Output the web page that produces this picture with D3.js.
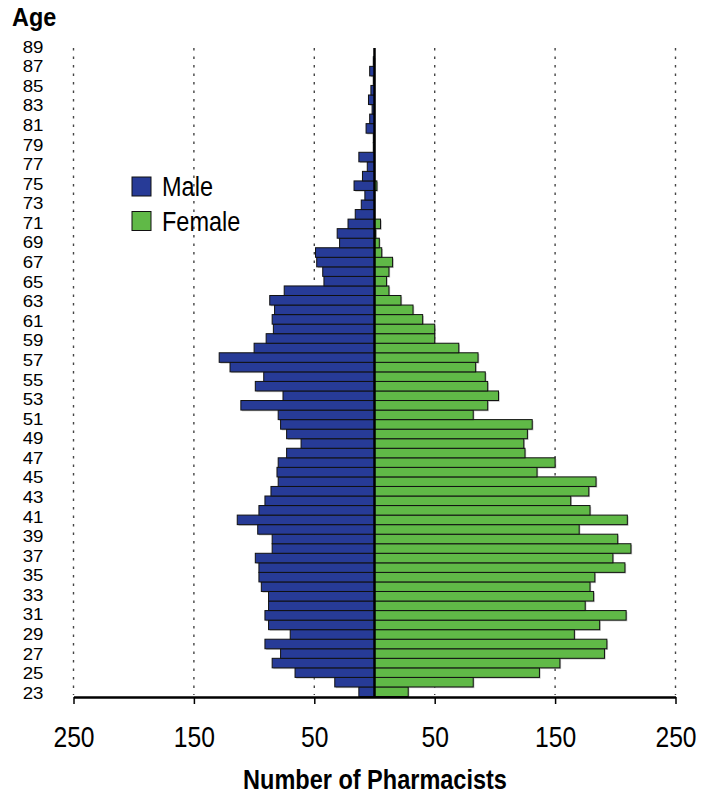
<!DOCTYPE html>
<html><head><meta charset="utf-8">
<script src="https://cdn.jsdelivr.net/npm/d3@7/dist/d3.min.js"></script>
<style>
body{margin:0;background:#fff}
svg{display:block}
text{font-family:"Liberation Sans","Arial",sans-serif;fill:#000}
</style>
</head><body>
<svg id="chart" width="712" height="796"></svg>
<script>
// Ages (categories), bottom to top
const ages = [23,24,25,26,27,28,29,30,31,32,33,34,35,36,37,38,39,40,41,42,43,44,45,46,47,48,49,50,51,52,53,54,55,56,
  57,58,59,60,61,62,63,64,65,66,67,68,69,70,71,72,73,74,75,76,77,78,79,80,81,82,83,84,85,86,87,88,89];
// Number of male pharmacists per age
const male = [13,33,66,85,78,91,70,88,91,88,88,94,96,96,99,85,85,97,114,96,91,86,80,81,80,73,61,73,78,80,111,76,99,92,
  120,129,100,90,84,85,83,87,75,42,43,48,49,29,31,22,16,11,8,17,10,6,13,1,1,7,4,2,5,3,1,4,1];
// Number of female pharmacists per age
const female = [28,82,137,154,191,193,166,187,209,175,182,179,183,208,198,213,202,170,210,179,163,178,184,135,150,125,124,127,131,82,94,103,94,92,
  84,86,70,50,50,40,32,22,12,10,12,15,6,4,1,5,0,0,0,2,0,0,0,0,0,0,0,0,0,0,0,0,0];
// Tick labels
const ageTicks = [23,25,27,29,31,33,35,37,39,41,43,45,47,49,51,53,55,57,59,61,63,65,67,69,71,73,75,77,79,81,83,85,87,89];
const xTicks = [-250,-150,-50,50,150,250];
const seriesNames = ["Male","Female"];
const colors = {Male:"#273b97", Female:"#60b947"};

const svg = d3.select("#chart");
svg.append("rect").attr("width",712).attr("height",796).attr("fill","#fff");

const x = d3.scaleLinear().domain([-250,250]).range([73.5,675.5]);
const yBand = d3.scaleBand().domain(ages).range([696.5,56.8]).paddingInner(0).paddingOuter(0);
const yLabel = d3.scalePoint().domain(ages).range([692,46]);
const plotTop = 48, plotBottom = 697;

// gridlines
svg.append("g").selectAll("line").data(xTicks).join("line")
  .attr("x1",d=>x(d)).attr("x2",d=>x(d))
  .attr("y1",plotTop).attr("y2",plotBottom-2)
  .attr("stroke","#444").attr("stroke-width",1.4)
  .attr("stroke-dasharray","2.5,6");

const rows = ages.map((a,i)=>({age:a, male:male[i], female:female[i]}));

function drawSeries(key, sign){
  const data = rows.filter(r=>r[key]>0);
  const g = svg.append("g");
  const xs = r => sign<0 ? x(-r[key]) : x(0);
  const ws = r => Math.abs(x(sign*r[key]) - x(0));
  g.selectAll("rect.sh").data(data).join("rect").attr("class","sh")
    .attr("x",r=>xs(r)+1.2).attr("y",r=>yBand(r.age)+1.2)
    .attr("width",ws).attr("height",yBand.bandwidth())
    .attr("fill","#8c8c8c").attr("opacity",0.55);
  g.selectAll("rect.bar").data(data).join("rect").attr("class","bar")
    .attr("x",xs).attr("y",r=>yBand(r.age))
    .attr("width",ws).attr("height",yBand.bandwidth())
    .attr("fill",colors[key==="male"?"Male":"Female"])
    .attr("stroke","#111").attr("stroke-width",1);
}
drawSeries("male",-1);
drawSeries("female",1);

// center line
svg.append("line").attr("x1",x(0)).attr("x2",x(0)).attr("y1",plotTop).attr("y2",plotBottom)
  .attr("stroke","#000").attr("stroke-width",2.5);

// x axis
const xAxis = svg.append("g").attr("transform",`translate(0,${plotBottom})`)
  .call(d3.axisBottom(x).tickValues(xTicks).tickFormat(d=>Math.abs(d)).tickSize(7).tickPadding(22).tickSizeOuter(0));
xAxis.select(".domain").attr("stroke","#000").attr("stroke-width",2.6);
xAxis.selectAll(".tick line").attr("stroke","#000").attr("stroke-width",1.5);
xAxis.selectAll(".tick text").attr("font-size",29).attr("font-family",null).attr("fill","#000")
  .attr("transform","scale(0.85,1)");

// y labels
const yAxis = svg.append("g").attr("transform","translate(43.5,0)")
  .call(d3.axisLeft(yLabel).tickValues(ageTicks).tickSize(0).tickPadding(0));
yAxis.select(".domain").remove();
yAxis.selectAll(".tick text").attr("font-size",17.3).attr("font-family",null).attr("fill","#000")
  .attr("dy","0.36em").attr("transform","scale(1.08,1)");

// titles
svg.append("text").attr("transform","translate(12,26) scale(0.9,1)")
  .attr("font-size",26).attr("font-weight","bold").text("Age");
svg.append("text").attr("transform","translate(375,789) scale(0.84,1)").attr("text-anchor","middle")
  .attr("font-size",28).attr("font-weight","bold").text("Number of Pharmacists");

// legend
const leg = svg.append("g");
seriesNames.forEach((n,i)=>{
  const yy = 177 + i*34.5;
  leg.append("rect").attr("x",132).attr("y",yy).attr("width",19).attr("height",19)
    .attr("fill",colors[n]).attr("stroke","#111").attr("stroke-width",1);
  leg.append("text").attr("transform",`translate(162,${yy+19}) scale(0.84,1)`)
    .attr("font-size",28).text(n);
});
</script>
</body></html>
